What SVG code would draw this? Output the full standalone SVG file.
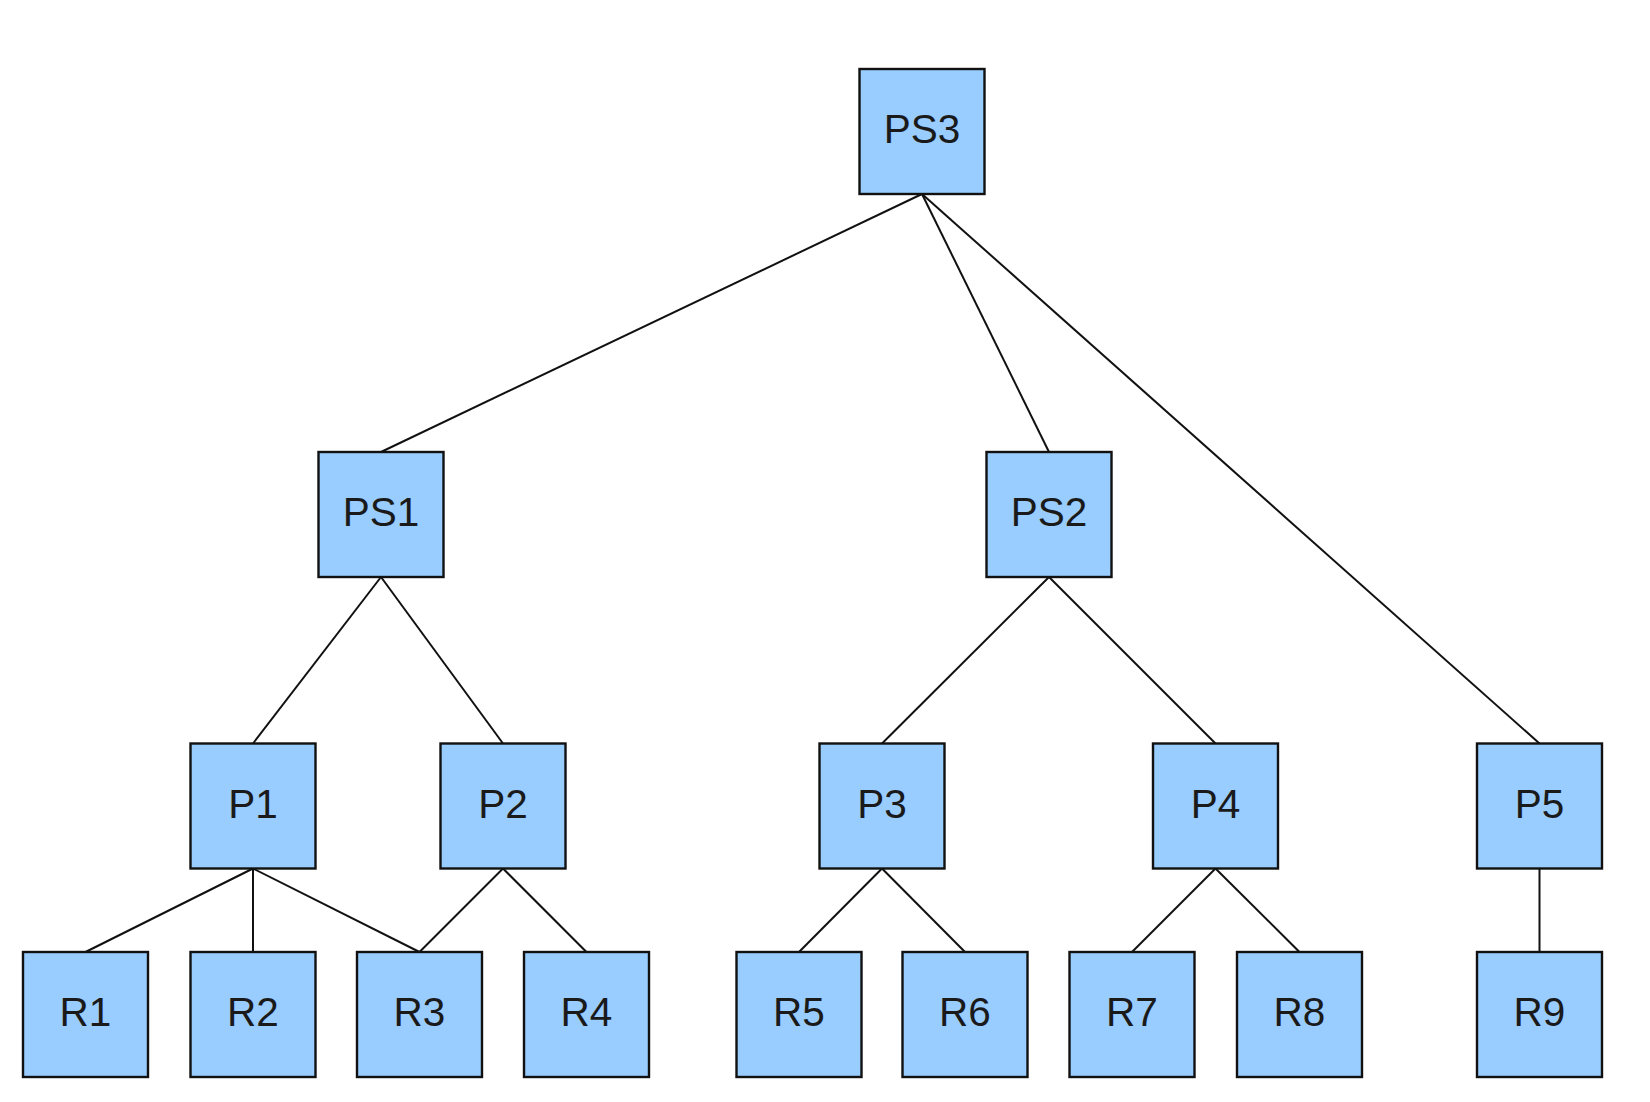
<svg xmlns="http://www.w3.org/2000/svg" width="1650" height="1102" viewBox="0 0 1650 1102">
<style>
.n rect{fill:#99ccff;stroke:#111;stroke-width:2.4}
.n text{font-family:"Liberation Sans",Arial,sans-serif;font-size:40.5px;fill:#1a1a1a;text-anchor:middle}
.e line{stroke:#111;stroke-width:2}
</style>
<rect width="1650" height="1102" fill="#fff"/>
<g class="e">
<line x1="922" y1="194" x2="381" y2="452"/>
<line x1="922" y1="194" x2="1049" y2="452"/>
<line x1="922" y1="194" x2="1539.5" y2="743.5"/>
<line x1="381" y1="577" x2="253" y2="743.5"/>
<line x1="381" y1="577" x2="503" y2="743.5"/>
<line x1="1049" y1="577" x2="882" y2="743.5"/>
<line x1="1049" y1="577" x2="1215.5" y2="743.5"/>
<line x1="253" y1="868.5" x2="85.5" y2="952"/>
<line x1="253" y1="868.5" x2="253" y2="952"/>
<line x1="253" y1="868.5" x2="419.5" y2="952"/>
<line x1="503" y1="868.5" x2="419.5" y2="952"/>
<line x1="503" y1="868.5" x2="586.5" y2="952"/>
<line x1="882" y1="868.5" x2="799" y2="952"/>
<line x1="882" y1="868.5" x2="965" y2="952"/>
<line x1="1215.5" y1="868.5" x2="1132" y2="952"/>
<line x1="1215.5" y1="868.5" x2="1299.5" y2="952"/>
<line x1="1539.5" y1="868.5" x2="1539.5" y2="952"/>
</g>
<g id="PS3" class="n"><rect x="859.5" y="69" width="125" height="125"/><text x="922" y="143">PS3</text></g>
<g id="PS1" class="n"><rect x="318.5" y="452" width="125" height="125"/><text x="381" y="526">PS1</text></g>
<g id="PS2" class="n"><rect x="986.5" y="452" width="125" height="125"/><text x="1049" y="526">PS2</text></g>
<g id="P1" class="n"><rect x="190.5" y="743.5" width="125" height="125"/><text x="253" y="817.5">P1</text></g>
<g id="P2" class="n"><rect x="440.5" y="743.5" width="125" height="125"/><text x="503" y="817.5">P2</text></g>
<g id="P3" class="n"><rect x="819.5" y="743.5" width="125" height="125"/><text x="882" y="817.5">P3</text></g>
<g id="P4" class="n"><rect x="1153" y="743.5" width="125" height="125"/><text x="1215.5" y="817.5">P4</text></g>
<g id="P5" class="n"><rect x="1477" y="743.5" width="125" height="125"/><text x="1539.5" y="817.5">P5</text></g>
<g id="R1" class="n"><rect x="23" y="952" width="125" height="125"/><text x="85.5" y="1026">R1</text></g>
<g id="R2" class="n"><rect x="190.5" y="952" width="125" height="125"/><text x="253" y="1026">R2</text></g>
<g id="R3" class="n"><rect x="357" y="952" width="125" height="125"/><text x="419.5" y="1026">R3</text></g>
<g id="R4" class="n"><rect x="524" y="952" width="125" height="125"/><text x="586.5" y="1026">R4</text></g>
<g id="R5" class="n"><rect x="736.5" y="952" width="125" height="125"/><text x="799" y="1026">R5</text></g>
<g id="R6" class="n"><rect x="902.5" y="952" width="125" height="125"/><text x="965" y="1026">R6</text></g>
<g id="R7" class="n"><rect x="1069.5" y="952" width="125" height="125"/><text x="1132" y="1026">R7</text></g>
<g id="R8" class="n"><rect x="1237" y="952" width="125" height="125"/><text x="1299.5" y="1026">R8</text></g>
<g id="R9" class="n"><rect x="1477" y="952" width="125" height="125"/><text x="1539.5" y="1026">R9</text></g>
</svg>
